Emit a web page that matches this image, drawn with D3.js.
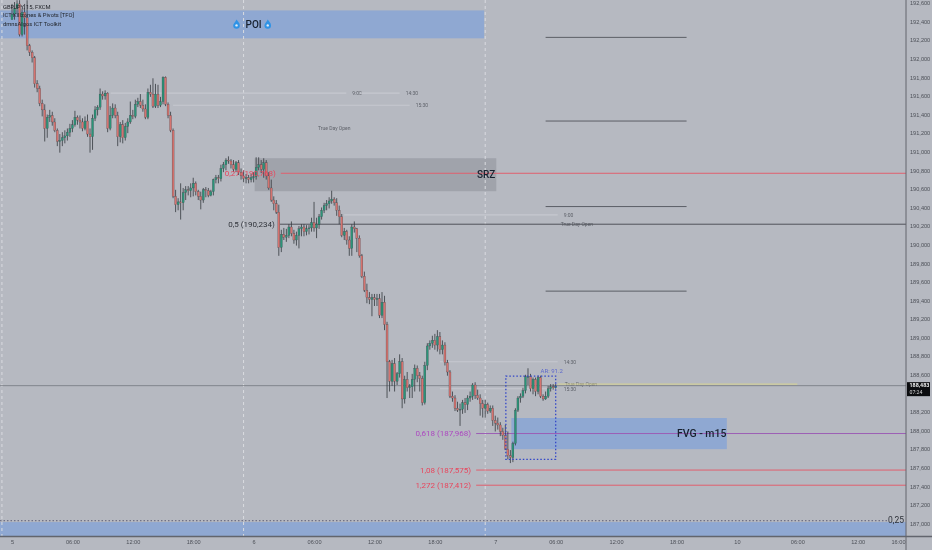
<!DOCTYPE html>
<html>
<head>
<meta charset="utf-8">
<script src="https://cdn.jsdelivr.net/npm/d3@7"></script>
<style>
  html, body { margin: 0; padding: 0; background: #b6b9c1; overflow: hidden; }
  svg { display: block; font-family: Roboto, sans-serif; filter: blur(0.3px); }
  .axis text { fill: #4d5058; font-size: 5.6px; }
</style>
</head>
<body>
<div id="chart"></div>
<script>
// 15 minute candles, hours counted from the start of day 5, open = previous close
const firstOpen = 192.42;
const closes = [
  192.48,192.54,192.59,192.26,192.50,192.44,192.14,192.07,192.01,191.73,
  191.68,191.52,191.45,191.25,191.37,191.39,191.32,191.23,191.11,191.12,
  191.15,191.17,191.21,191.25,191.29,191.37,191.34,191.32,191.25,191.33,
  191.19,191.16,191.36,191.45,191.48,191.62,191.60,191.63,191.25,191.39,
  191.47,191.39,191.16,191.29,191.15,191.27,191.32,191.39,191.38,191.51,
  191.54,191.50,191.46,191.37,191.64,191.62,191.49,191.62,191.50,191.54,
  191.80,191.51,191.39,191.23,190.52,190.43,190.46,190.45,190.56,190.59,
  190.58,190.61,190.66,190.57,190.52,190.48,190.59,190.58,190.53,190.57,
  190.70,190.72,190.71,190.82,190.86,190.91,190.90,190.86,190.81,190.88,
  190.78,190.74,190.71,190.72,190.70,190.72,190.73,190.83,190.86,190.81,
  190.88,190.74,190.61,190.48,190.44,190.35,189.97,190.11,190.08,190.10,
  190.19,190.12,190.05,190.10,190.17,190.19,190.14,190.17,190.18,190.24,
  190.18,190.22,190.30,190.37,190.42,190.44,190.47,190.49,190.45,190.37,
  190.30,190.10,190.14,190.05,189.96,190.19,190.17,190.07,189.88,189.66,
  189.51,189.43,189.41,189.43,189.41,189.42,189.24,189.38,189.14,188.74,
  188.53,188.72,188.53,188.61,188.74,188.34,188.55,188.46,188.47,188.55,
  188.67,188.59,188.56,188.30,188.70,188.91,188.94,188.97,188.92,189.01,
  188.87,188.92,188.73,188.63,188.37,188.35,188.24,188.22,188.23,188.30,
  188.28,188.35,188.37,188.49,188.38,188.35,188.29,188.24,188.28,188.21,
  188.24,188.11,188.08,188.06,187.99,187.95,187.80,187.73,187.71,187.86,
  188.22,188.35,188.37,188.43,188.58,188.58,188.45,188.55,188.42,188.57,
  188.37,188.34,188.37,188.45,188.47,188.46,188.48
];
const highs = [
  192.59,192.61,192.63,192.63,192.54,192.59,192.63,192.16,192.09,192.03,
  191.77,191.71,191.56,191.51,191.40,191.45,191.43,191.36,191.25,191.19,
  191.21,191.23,191.25,191.30,191.34,191.44,191.39,191.39,191.36,191.38,
  191.40,191.25,191.40,191.49,191.50,191.68,191.65,191.66,191.64,191.49,
  191.52,191.51,191.43,191.32,191.34,191.31,191.36,191.54,191.45,191.56,
  191.58,191.62,191.56,191.51,191.68,191.72,191.79,191.73,191.72,191.59,
  191.81,191.81,191.53,191.43,191.25,190.59,190.50,190.66,190.61,190.63,
  190.63,190.66,190.72,190.68,190.59,190.57,190.61,190.62,190.61,190.59,
  190.71,190.75,190.75,190.86,190.89,190.93,190.95,190.92,190.91,190.90,
  190.91,190.82,190.80,190.76,190.75,190.76,190.78,190.94,190.94,190.91,
  190.93,190.91,190.78,190.70,190.52,190.48,190.43,190.16,190.18,190.17,
  190.22,190.25,190.16,190.14,190.20,190.22,190.22,190.21,190.21,190.29,
  190.46,190.29,190.33,190.40,190.45,190.48,190.51,190.58,190.51,190.50,
  190.42,190.33,190.18,190.16,190.09,190.22,190.25,190.18,190.10,189.90,
  189.71,189.58,189.49,189.47,189.47,189.47,189.47,189.49,189.45,189.17,
  188.76,188.76,188.78,188.63,188.82,188.78,188.59,188.63,188.50,188.61,
  188.71,188.70,188.63,188.59,188.74,188.94,188.97,189.02,189.04,189.08,
  189.06,188.97,188.95,188.76,188.65,188.42,188.38,188.31,188.29,188.33,
  188.35,188.38,188.42,188.51,188.52,188.44,188.39,188.33,188.33,188.30,
  188.27,188.27,188.16,188.14,188.09,188.03,188.06,187.99,187.79,187.88,
  188.24,188.37,188.40,188.46,188.60,188.67,188.61,188.57,188.57,188.59,
  188.59,188.39,188.42,188.48,188.50,188.50,188.50
];
const lows = [
  192.44,192.42,192.48,192.24,192.24,192.26,192.09,192.03,191.96,191.69,
  191.64,191.49,191.38,191.11,191.15,191.32,191.28,191.21,191.06,190.99,
  191.06,191.09,191.12,191.16,191.21,191.27,191.29,191.25,191.22,191.23,
  191.16,190.99,191.02,191.33,191.39,191.45,191.56,191.56,191.21,191.23,
  191.36,191.36,191.06,191.10,191.09,191.12,191.20,191.30,191.35,191.36,
  191.48,191.47,191.43,191.35,191.35,191.59,191.47,191.47,191.47,191.48,
  191.51,191.49,191.36,191.21,190.50,190.35,190.37,190.27,190.37,190.48,
  190.53,190.51,190.52,190.53,190.48,190.38,190.45,190.51,190.51,190.52,
  190.53,190.66,190.66,190.68,190.78,190.80,190.87,190.82,190.78,190.78,
  190.75,190.70,190.67,190.66,190.66,190.67,190.67,190.70,190.80,190.77,
  190.72,190.70,190.59,190.46,190.37,190.33,189.88,189.92,190.05,190.03,
  190.07,190.09,190.01,189.99,189.96,190.09,190.09,190.10,190.11,190.14,
  190.14,190.07,190.17,190.27,190.34,190.37,190.39,190.44,190.42,190.31,
  190.22,190.08,190.05,190.00,189.88,189.88,190.13,189.92,189.86,189.64,
  189.49,189.37,189.36,189.23,189.34,189.34,189.21,189.21,189.08,188.35,
  188.42,188.48,188.42,188.49,188.57,188.24,188.29,188.42,188.35,188.35,
  188.42,188.52,188.42,188.27,188.28,188.65,188.87,188.89,188.87,188.85,
  188.82,188.82,188.70,188.59,188.35,188.31,188.21,188.20,188.05,188.18,
  188.19,188.22,188.31,188.33,188.34,188.33,188.16,188.14,188.14,188.18,
  188.19,188.05,187.99,188.01,187.94,187.90,187.79,187.69,187.65,187.66,
  187.84,188.20,188.30,188.35,188.40,188.49,188.42,188.39,188.37,188.39,
  188.35,188.32,188.33,188.35,188.42,188.44,188.45
];

// 188,400 sits under the last price tag in the picture, so it is not listed
const priceTicks = [
  187, 187.2, 187.4, 187.6, 187.8, 188, 188.2, 188.6, 188.8, 189, 189.2, 189.4, 189.6, 189.8,
  190, 190.2, 190.4, 190.6, 190.8, 191, 191.2, 191.4, 191.6, 191.8, 192, 192.2, 192.4, 192.6
];
const timeTicks = [0, 6, 12, 18, 24, 30, 36, 42, 48, 54, 60, 66, 72, 78, 84, 88];
const timeLabels = ["5", "06:00", "12:00", "18:00", "6", "06:00", "12:00", "18:00", "7", "06:00", "12:00", "18:00", "10", "06:00", "12:00", "16:00"];

// zones
const zoneNames = ["POI", "SRZ", "FVG - m15", ""];
const zoneStart = [-2, 24.1, 49.6, -2];
const zoneEnd = [46.9, 48.1, 71, 89];
const zoneTop = [192.52, 190.93, 188.135, 187.015];
const zoneBottom = [192.22, 190.575, 187.8, 186.86];

// fib levels
const levelPrice = [190.768, 190.22, 187.968, 187.575, 187.412];
const levelStart = [26.7, 26.6, 46.1, 46.1, 46.1];
const levelLabels = ["0,27 (190,768)", "0,5 (190,234)", "0,618 (187,968)", "1,08 (187,575)", "1,272 (187,412)"];

// short black pivots
const pivotPrices = [192.23, 191.33, 190.41, 189.5];
const pivotStart = 53;
const pivotEnd = 67;

// killzone lines with their time label
const sessionPrice = [191.63, 191.63, 191.5, 190.32, 188.74, 188.45];
const sessionStart = [9.8, 34.5, 16, 33, 42.5, 42.5];
const sessionEnd = [33.2, 38.5, 39.5, 54.2, 54.2, 54.2];
const sessionLabels = ["9:00", "14:30", "15:30", "9:00", "14:30", "15:30"];

const dayBreaks = [-1, 23, 47];
const trueOpenLabels = [[30.4, 191.25], [54.5, 190.22], [54.9, 188.5]];
const lastPrice = 188.483;

const width = 932;
const height = 550;
const chartRight = 906;
const chartBottom = 536;

const xScale = d3.scaleLinear().domain([0, 88]).range([12, 898]);
const yScale = d3.scaleLinear().domain([187, 192.6]).range([523.5, 3]);

const svg = d3.select("#chart").append("svg").attr("width", width).attr("height", height);
svg.append("rect").attr("width", width).attr("height", height).attr("fill", "#b6b9c1");

svg.append("clipPath").attr("id", "plot").append("rect").attr("width", chartRight).attr("height", chartBottom);
const plot = svg.append("g").attr("clip-path", "url(#plot)");

// zones
const zoneFill = ["#8fa8d2", "#a0a3ab", "#8fa8d2", "#8fa8d2"];
zoneNames.forEach((name, i) => {
  plot.append("rect")
    .attr("x", xScale(zoneStart[i]))
    .attr("y", yScale(zoneTop[i]))
    .attr("width", xScale(zoneEnd[i]) - xScale(zoneStart[i]))
    .attr("height", yScale(zoneBottom[i]) - yScale(zoneTop[i]))
    .attr("fill", zoneFill[i]);
});

// day separators
plot.selectAll(".day").data(dayBreaks).join("line")
  .attr("x1", (d) => xScale(d)).attr("x2", (d) => xScale(d))
  .attr("y1", 0).attr("y2", chartBottom)
  .attr("stroke", "#d9dbe0").attr("stroke-width", 1).attr("stroke-dasharray", "3,3");

// killzone lines
sessionPrice.forEach((p, i) => {
  plot.append("line")
    .attr("x1", xScale(sessionStart[i])).attr("x2", xScale(sessionEnd[i]))
    .attr("y1", yScale(p)).attr("y2", yScale(p))
    .attr("stroke", "#c6c9cf").attr("stroke-width", 1.2);
  plot.append("text")
    .attr("x", xScale(sessionEnd[i]) + 6).attr("y", yScale(p) + 2)
    .attr("font-size", 5).attr("fill", "#5f626a")
    .text(sessionLabels[i]);
});
trueOpenLabels.forEach((d) => {
  plot.append("text")
    .attr("x", xScale(d[0])).attr("y", yScale(d[1]) + 2)
    .attr("font-size", 5).attr("fill", "#5f626a")
    .text("True Day Open");
});

// pivots
plot.selectAll(".pivot").data(pivotPrices).join("line")
  .attr("x1", xScale(pivotStart)).attr("x2", xScale(pivotEnd))
  .attr("y1", (d) => yScale(d)).attr("y2", (d) => yScale(d))
  .attr("stroke", "#45484f").attr("stroke-width", 0.8);

// last price + true day open line
plot.append("line")
  .attr("x1", 0).attr("x2", chartRight)
  .attr("y1", yScale(lastPrice)).attr("y2", yScale(lastPrice))
  .attr("stroke", "#74777f").attr("stroke-width", 0.8);
plot.append("line")
  .attr("x1", xScale(54.2)).attr("x2", xScale(78))
  .attr("y1", yScale(188.5)).attr("y2", yScale(188.5))
  .attr("stroke", "#d9d58f").attr("stroke-width", 1);

// fib levels
const levelColor = ["#e8455c", "#30333a", "#ac48c0", "#e8455c", "#e8455c"];
const levelLine = ["#e0606e", "#50535a", "#9c5fb5", "#e0606e", "#e0606e"];
levelPrice.forEach((p, i) => {
  plot.append("line")
    .attr("x1", xScale(levelStart[i])).attr("x2", chartRight)
    .attr("y1", yScale(p)).attr("y2", yScale(p))
    .attr("stroke", levelLine[i]).attr("stroke-width", 1);
});

// 0,25 dotted line
plot.append("line")
  .attr("x1", 0).attr("x2", 888)
  .attr("y1", yScale(187.03)).attr("y2", yScale(187.03))
  .attr("stroke", "#5f5f78").attr("stroke-width", 1).attr("stroke-dasharray", "1.5,2");

// candles
const candles = closes.map((c, i) => ({
  t: i / 4,
  open: i === 0 ? firstOpen : closes[i - 1],
  high: highs[i],
  low: lows[i],
  close: c,
}));
const bodyWidth = 2;
plot.selectAll(".wick").data(candles).join("line")
  .attr("x1", (d) => xScale(d.t)).attr("x2", (d) => xScale(d.t))
  .attr("y1", (d) => yScale(d.high)).attr("y2", (d) => yScale(d.low))
  .attr("stroke", "#34383e").attr("stroke-width", 0.8);
plot.selectAll(".body").data(candles).join("rect")
  .attr("x", (d) => xScale(d.t) - bodyWidth / 2)
  .attr("y", (d) => yScale(Math.max(d.open, d.close)))
  .attr("width", bodyWidth)
  .attr("height", (d) => Math.max(0.8, Math.abs(yScale(d.open) - yScale(d.close))))
  .attr("fill", (d) => (d.close >= d.open ? "#2b9478" : "#d4736f"))
  .attr("stroke", "#3a3d44").attr("stroke-width", 0.25);

// AR box
plot.append("rect")
  .attr("x", xScale(49.05)).attr("y", yScale(188.586))
  .attr("width", xScale(54) - xScale(49.05))
  .attr("height", yScale(187.69) - yScale(188.586))
  .attr("fill", "none").attr("stroke", "#3246c8").attr("stroke-width", 1.3).attr("stroke-dasharray", "1.5,2");
plot.append("text")
  .attr("x", xScale(52.5)).attr("y", yScale(188.586) - 3)
  .attr("font-size", 6).attr("fill", "#5d69cc").text("AR: 91.2");

// labels on the levels
levelPrice.forEach((p, i) => {
  plot.append("text")
    .attr("x", xScale(levelStart[i]) - 5).attr("y", yScale(p) + 2.8)
    .attr("text-anchor", "end").attr("font-size", 8).attr("fill", levelColor[i])
    .text(levelLabels[i]);
});

// zone names
const nameX = [24, 47.1, 68.5];
const nameSize = [10, 10, 10.5];
[0, 1, 2].forEach((i) => {
  plot.append("text")
    .attr("x", xScale(nameX[i])).attr("y", (yScale(zoneTop[i]) + yScale(zoneBottom[i])) / 2 + 3.5)
    .attr("text-anchor", "middle").attr("font-size", nameSize[i]).attr("font-weight", 500).attr("fill", "#17202e")
    .text(zoneNames[i]);
});

// the two little flames beside POI
[22.3, 25.4].forEach((t) => {
  const g = plot.append("g").attr("transform", `translate(${xScale(t)},${yScale(192.37)})`);
  g.append("path").attr("d", "M0,-5C1,-3 3.3,-2 3.3,1A3.3,3.3 0 0 1 -3.3,1C-3.3,-1 -1.5,-2 0,-5Z").attr("fill", "#2f93e6");
  g.append("circle").attr("cy", 1).attr("r", 1.2).attr("fill", "#e4eef8");
});

plot.append("text").attr("x", 888).attr("y", yScale(187.03) + 2)
  .attr("font-size", 8.5).attr("fill", "#2c3038").text("0,25");

// legend text
const legendLines = ["GBPJPY, 15, FXCM", "ICT Killzones & Pivots [TFO]", "dmnsAlgos ICT Toolkit"];
legendLines.forEach((t, i) => {
  svg.append("text").attr("x", 3).attr("y", 9 + i * 8.3)
    .attr("font-size", 5.8).attr("fill", "#23262c").text(t);
});

// axes
const yAxis = d3.axisRight(yScale).tickValues(priceTicks).tickSize(0).tickPadding(4)
  .tickFormat((d) => d.toFixed(3).replace(".", ","));
const gy = svg.append("g").attr("class", "axis").attr("transform", `translate(${chartRight},0)`).call(yAxis);
gy.select(".domain").remove();

const xAxis = d3.axisBottom(xScale).tickValues(timeTicks).tickSize(0).tickPadding(4.5)
  .tickFormat((d, i) => timeLabels[i]);
const gx = svg.append("g").attr("class", "axis").attr("transform", `translate(0,${chartBottom})`).call(xAxis);
gx.select(".domain").remove();

svg.append("line").attr("x1", chartRight).attr("x2", chartRight).attr("y1", 0).attr("y2", height)
  .attr("stroke", "#62656d").attr("stroke-width", 1);
svg.append("line").attr("x1", 0).attr("x2", width).attr("y1", chartBottom + 0.5).attr("y2", chartBottom + 0.5)
  .attr("stroke", "#62656d").attr("stroke-width", 1.5);

// last price tag
svg.append("rect").attr("x", chartRight + 1).attr("y", yScale(lastPrice) - 3.5).attr("width", 23).attr("height", 14).attr("fill", "#0c0d10");
svg.append("text").attr("x", chartRight + 3.5).attr("y", yScale(lastPrice) + 1.5)
  .attr("font-size", 5.4).attr("font-weight", 700).attr("fill", "#f2f2f2").text("188,483");
svg.append("text").attr("x", chartRight + 3.5).attr("y", yScale(lastPrice) + 8)
  .attr("font-size", 5.2).attr("fill", "#d8d8d8").text("07:24");
</script>
</body>
</html>
